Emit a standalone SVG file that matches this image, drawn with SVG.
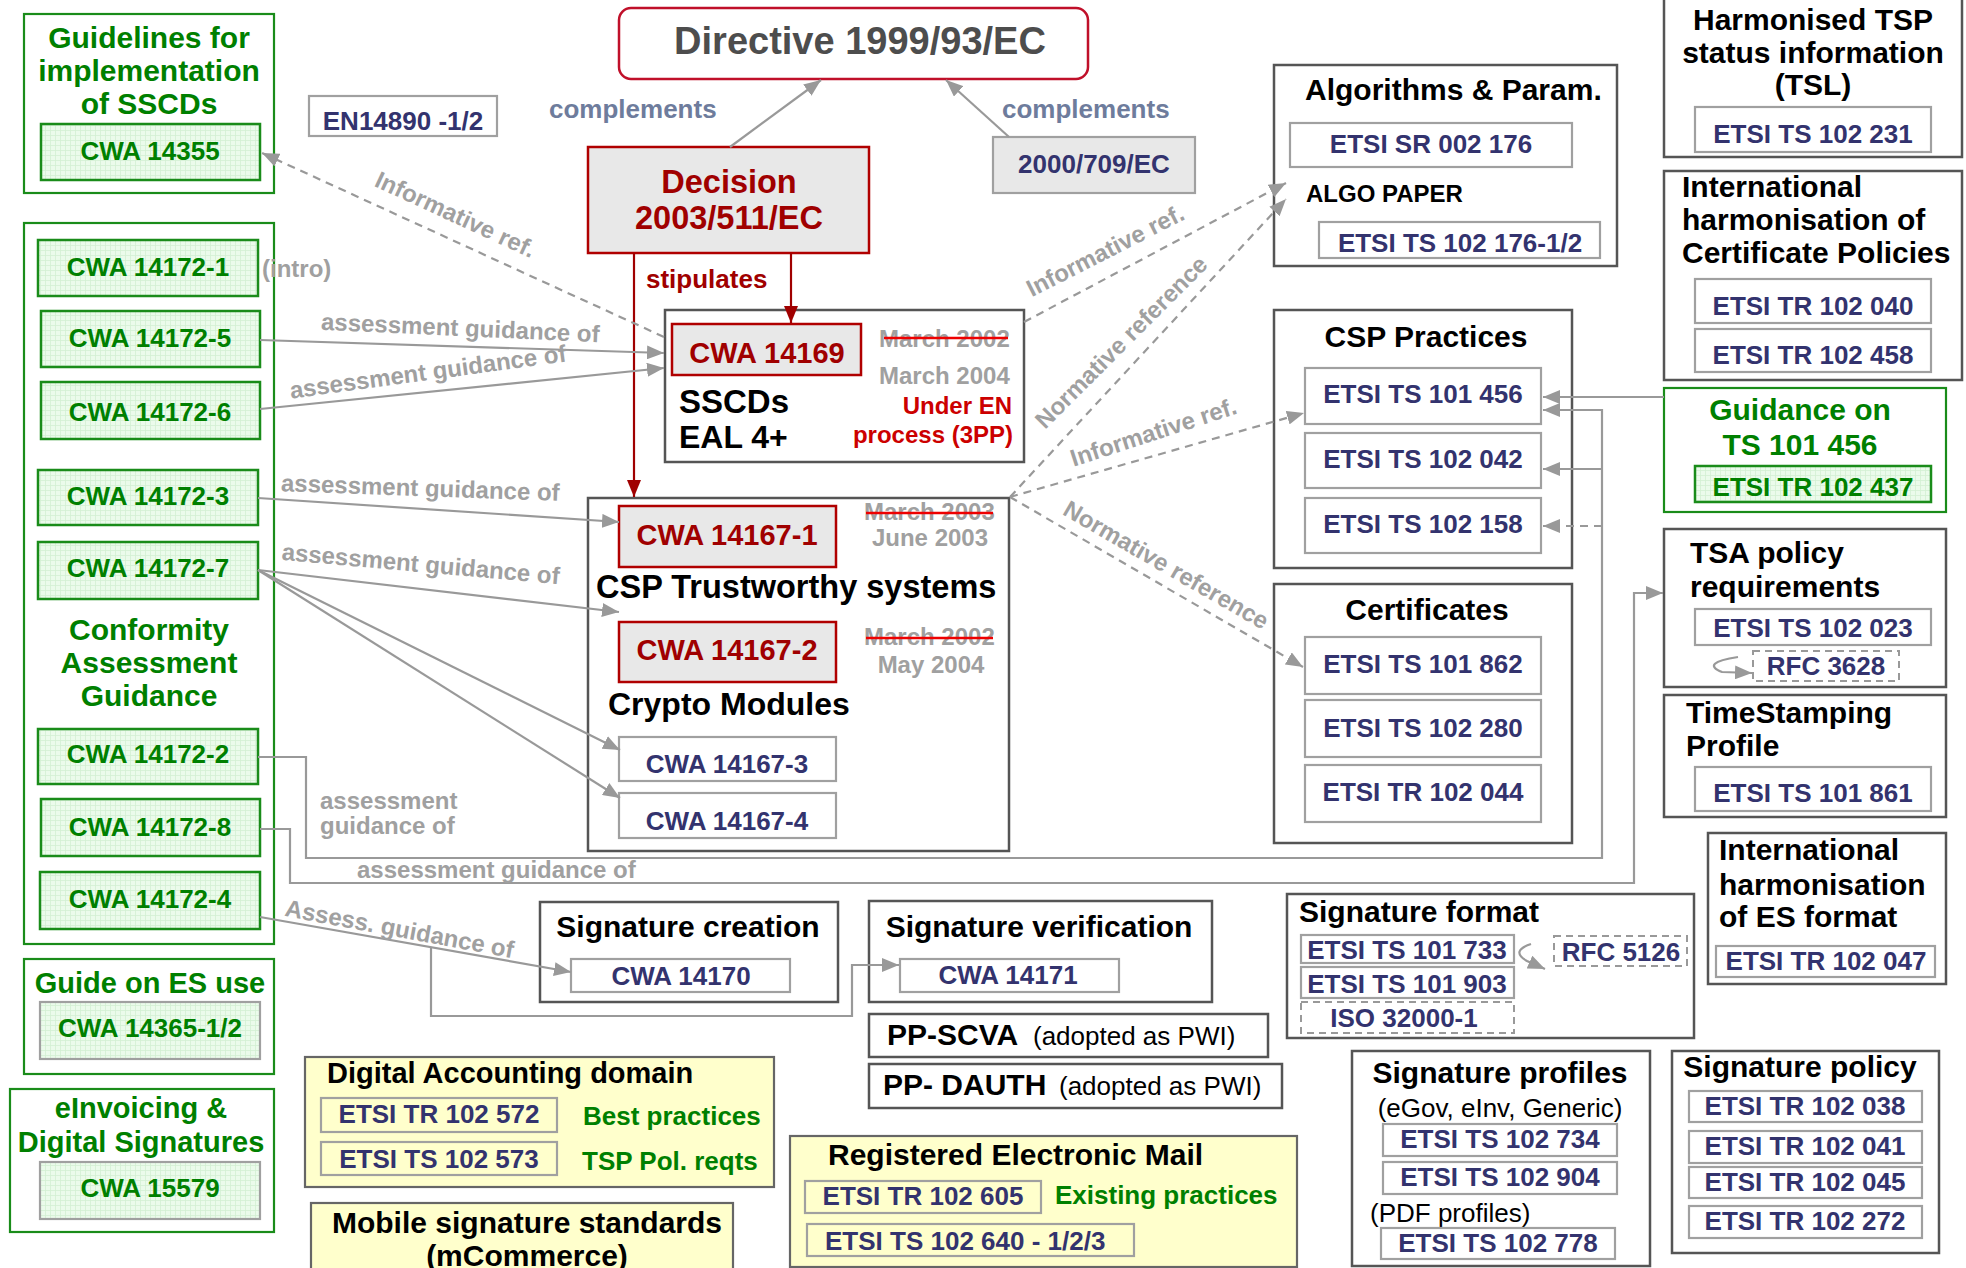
<svg xmlns="http://www.w3.org/2000/svg" width="1966" height="1268" viewBox="0 0 1966 1268">
<style>
text{font-family:"Liberation Sans",Arial,Helvetica,sans-serif;font-weight:bold}
.t{font-size:30px;fill:#000}
.m{text-anchor:middle}
.e{text-anchor:end}
.c{font-size:26px;fill:#33336e;text-anchor:middle}
.g{fill:#008000}
.gc{font-size:26px;fill:#008000;text-anchor:middle}
.rd{font-size:29px;fill:#a00000;text-anchor:middle}
.box{fill:#fff;stroke:#555;stroke-width:2.5}
.ibox{fill:#fff;stroke:#a0a0a0;stroke-width:2.2}
.dbox{fill:#fff;stroke:#999;stroke-width:2;stroke-dasharray:7 5}
.gbox{fill:#fff;stroke:#1a8c1a;stroke-width:2.2}
.gin{fill:url(#grid);stroke:#1a8c1a;stroke-width:2.5}
.gin2{fill:url(#grid);stroke:#a0a0a0;stroke-width:2.2}
.ybox{fill:#ffffcc;stroke:#666;stroke-width:2.2}
.yin{fill:none;stroke:#a0a0a0;stroke-width:2.2}
.rin{fill:#e8e8e8;stroke:#b00000;stroke-width:2.5}
.lbl{font-size:24px;fill:#a0a0a0}
.cmp{font-size:26px;fill:#6e7c9c}
.n{font-weight:normal}
.con{fill:none;stroke:#999;stroke-width:2.2}
.dash{stroke-dasharray:8 6}
.red{fill:none;stroke:#a00000;stroke-width:2.2}
.strike{stroke:#ee0000;stroke-width:2.5}
</style>
<defs>
<pattern id="grid" width="5" height="5" patternUnits="userSpaceOnUse"><rect width="5" height="5" fill="#ebfbeb"/><path d="M0,0.5H5M0.5,0V5" stroke="#d3f0d3" stroke-width="0.8"/></pattern>
<marker id="ah" markerUnits="userSpaceOnUse" markerWidth="17" markerHeight="14" refX="17" refY="7" orient="auto"><path d="M0,0 L17,7 L0,14 z" fill="#999"/></marker>
<marker id="ahr" markerUnits="userSpaceOnUse" markerWidth="17" markerHeight="14" refX="17" refY="7" orient="auto"><path d="M0,0 L17,7 L0,14 z" fill="#a00000"/></marker>
</defs>
<rect width="1966" height="1268" fill="#fff"/>

<g id="directive"><rect x="619" y="8" width="469" height="71" rx="12" fill="#fff" stroke="#c0102a" stroke-width="2.5"/><text x="860" y="54" class="m" style="font-size:38px;fill:#4d4d4d">Directive 1999/93/EC</text></g>
<g id="decision"><rect x="588" y="147" width="281" height="106" fill="#e8e8e8" stroke="#b00000" stroke-width="2.5"/><text x="729" y="193" class="m" style="font-size:32.5px;fill:#a00000">Decision</text><text x="729" y="229" class="m" style="font-size:32.5px;fill:#a00000">2003/511/EC</text></g>
<g id="ec2000"><rect x="993" y="137" width="202" height="56" fill="#e8e8e8" stroke="#a0a0a0" stroke-width="2.2"/><text x="1094" y="173" class="c">2000/709/EC</text></g>
<g id="en14890"><rect x="309" y="96" width="188" height="40" class="ibox"/><text x="403" y="130" class="c">EN14890 -1/2</text></g>

<g id="guidelines"><rect x="24" y="14" width="250" height="179" class="gbox"/>
<text x="149" y="48" class="t g m">Guidelines for</text><text x="149" y="81" class="t g m">implementation</text><text x="149" y="114" class="t g m">of SSCDs</text>
<rect x="41" y="124" width="219" height="56" class="gin"/><text x="150" y="160" class="gc">CWA 14355</text></g>

<g id="conformity"><rect x="24" y="223" width="250" height="721" class="gbox"/>
<rect x="38" y="240" width="220" height="56" class="gin"/><text x="148" y="276" class="gc">CWA 14172-1</text>
<rect x="41" y="311" width="219" height="56" class="gin"/><text x="150" y="347" class="gc">CWA 14172-5</text>
<rect x="41" y="382" width="219" height="57" class="gin"/><text x="150" y="421" class="gc">CWA 14172-6</text>
<rect x="38" y="470" width="220" height="55" class="gin"/><text x="148" y="505" class="gc">CWA 14172-3</text>
<rect x="38" y="542" width="220" height="57" class="gin"/><text x="148" y="577" class="gc">CWA 14172-7</text>
<text x="149" y="640" class="t g m">Conformity</text><text x="149" y="673" class="t g m">Assessment</text><text x="149" y="706" class="t g m">Guidance</text>
<rect x="38" y="729" width="220" height="55" class="gin"/><text x="148" y="763" class="gc">CWA 14172-2</text>
<rect x="41" y="799" width="219" height="57" class="gin"/><text x="150" y="836" class="gc">CWA 14172-8</text>
<rect x="40" y="872" width="220" height="57" class="gin"/><text x="150" y="908" class="gc">CWA 14172-4</text></g>
<text x="262" y="277" class="lbl">(intro)</text>

<g id="guide-es"><rect x="24" y="959" width="250" height="115" class="gbox"/><text x="150" y="993" class="g m" style="font-size:29px">Guide on ES use</text>
<rect x="40" y="1002" width="220" height="57" class="gin2"/><text x="150" y="1037" class="gc">CWA 14365-1/2</text></g>
<g id="einvoicing"><rect x="10" y="1089" width="264" height="143" class="gbox"/><text x="141" y="1118" class="g m" style="font-size:29px">eInvoicing &amp;</text><text x="141" y="1152" class="g m" style="font-size:29px">Digital Signatures</text>
<rect x="40" y="1162" width="220" height="57" class="gin2"/><text x="150" y="1197" class="gc">CWA 15579</text></g>

<g id="sscd"><rect x="665" y="310" width="359" height="152" class="box"/>
<rect x="672" y="324" width="189" height="51" class="rin"/><text x="767" y="363" class="rd">CWA 14169</text>
<text x="879" y="347" class="lbl">March 2002</text><line x1="884" y1="338" x2="1008" y2="338" class="strike"/>
<text x="879" y="384" class="lbl">March 2004</text>
<text x="1012" y="414" class="e" style="font-size:24px;fill:#cc0000">Under EN</text>
<text x="1013" y="443" class="e" style="font-size:24px;fill:#cc0000">process (3PP)</text>
<text x="679" y="413" style="font-size:33px;fill:#000">SSCDs</text><text x="679" y="448" style="font-size:32px;fill:#000">EAL 4+</text></g>

<g id="csp-tw"><rect x="588" y="498" width="421" height="353" class="box"/>
<rect x="619" y="506" width="217" height="61" class="rin"/><text x="727" y="545" class="rd">CWA 14167-1</text>
<text x="864" y="520" class="lbl">March 2003</text><line x1="866" y1="513" x2="993" y2="513" class="strike"/>
<text x="930" y="546" class="lbl m">June 2003</text>
<text x="596" y="598" style="font-size:32.5px;fill:#000">CSP Trustworthy systems</text>
<rect x="619" y="622" width="217" height="60" class="rin"/><text x="727" y="660" class="rd">CWA 14167-2</text>
<text x="864" y="645" class="lbl">March 2002</text><line x1="866" y1="638" x2="993" y2="638" class="strike"/>
<text x="931" y="673" class="lbl m">May 2004</text>
<text x="608" y="715" style="font-size:32px;fill:#000">Crypto Modules</text>
<rect x="619" y="737" width="217" height="44" class="ibox"/><text x="727" y="773" class="c">CWA 14167-3</text>
<rect x="619" y="793" width="217" height="45" class="ibox"/><text x="727" y="830" class="c">CWA 14167-4</text></g>

<g id="algo"><rect x="1274" y="65" width="343" height="201" class="box"/><text x="1305" y="100" class="t">Algorithms &amp; Param.</text>
<rect x="1290" y="123" width="282" height="44" class="ibox"/><text x="1431" y="153" class="c">ETSI SR 002 176</text>
<text x="1306" y="202" style="font-size:24px;fill:#000">ALGO PAPER</text>
<rect x="1319" y="222" width="281" height="36" class="ibox"/><text x="1460" y="252" class="c">ETSI TS 102 176-1/2</text></g>

<g id="tsl"><rect x="1664" y="-2" width="298" height="159" class="box"/>
<text x="1813" y="30" class="t m">Harmonised TSP</text><text x="1813" y="63" class="t m">status information</text><text x="1813" y="95" class="t m">(TSL)</text>
<rect x="1695" y="107" width="236" height="45" class="ibox"/><text x="1813" y="143" class="c">ETSI TS 102 231</text></g>

<g id="intl-cp"><rect x="1664" y="171" width="298" height="209" class="box"/>
<text x="1682" y="197" class="t">International</text><text x="1682" y="230" class="t">harmonisation of</text><text x="1682" y="263" class="t">Certificate Policies</text>
<rect x="1695" y="279" width="236" height="44" class="ibox"/><text x="1813" y="315" class="c">ETSI TR 102 040</text>
<rect x="1695" y="329" width="236" height="43" class="ibox"/><text x="1813" y="364" class="c">ETSI TR 102 458</text></g>

<g id="csp-practices"><rect x="1274" y="310" width="298" height="258" class="box"/><text x="1426" y="347" class="t m">CSP Practices</text>
<rect x="1305" y="368" width="236" height="56" class="ibox"/><text x="1423" y="403" class="c">ETSI TS 101 456</text>
<rect x="1305" y="433" width="236" height="55" class="ibox"/><text x="1423" y="468" class="c">ETSI TS 102 042</text>
<rect x="1305" y="498" width="236" height="55" class="ibox"/><text x="1423" y="533" class="c">ETSI TS 102 158</text></g>

<g id="guidance456"><rect x="1664" y="388" width="282" height="124" class="gbox"/>
<text x="1800" y="420" class="t g m">Guidance on</text><text x="1800" y="455" class="t g m">TS 101 456</text>
<rect x="1695" y="466" width="236" height="36" class="gin"/><text x="1813" y="496" class="gc">ETSI TR 102 437</text></g>

<g id="certificates"><rect x="1274" y="584" width="298" height="259" class="box"/><text x="1427" y="620" class="t m">Certificates</text>
<rect x="1305" y="637" width="236" height="57" class="ibox"/><text x="1423" y="673" class="c">ETSI TS 101 862</text>
<rect x="1305" y="700" width="236" height="57" class="ibox"/><text x="1423" y="737" class="c">ETSI TS 102 280</text>
<rect x="1305" y="765" width="236" height="57" class="ibox"/><text x="1423" y="801" class="c">ETSI TR 102 044</text></g>

<g id="tsa"><rect x="1664" y="529" width="282" height="158" class="box"/>
<text x="1690" y="563" class="t">TSA policy</text><text x="1690" y="597" class="t">requirements</text>
<rect x="1695" y="609" width="236" height="36" class="ibox"/><text x="1813" y="637" class="c">ETSI TS 102 023</text>
<rect x="1753" y="651" width="146" height="30" class="dbox"/><text x="1826" y="675" class="c">RFC 3628</text></g>

<g id="timestamping"><rect x="1664" y="695" width="282" height="122" class="box"/>
<text x="1686" y="723" class="t">TimeStamping</text><text x="1686" y="756" class="t">Profile</text>
<rect x="1695" y="767" width="236" height="44" class="ibox"/><text x="1813" y="802" class="c">ETSI TS 101 861</text></g>

<g id="intl-es"><rect x="1708" y="833" width="238" height="151" class="box"/>
<text x="1719" y="860" class="t">International</text><text x="1719" y="895" class="t">harmonisation</text><text x="1719" y="927" class="t">of ES format</text>
<rect x="1716" y="946" width="219" height="31" class="ibox"/><text x="1826" y="970" class="c">ETSI TR 102 047</text></g>

<g id="sig-creation"><rect x="540" y="902" width="298" height="100" class="box"/><text x="688" y="937" class="t m">Signature creation</text>
<rect x="571" y="959" width="219" height="33" class="ibox"/><text x="681" y="985" class="c">CWA 14170</text></g>
<g id="sig-verification"><rect x="869" y="901" width="343" height="101" class="box"/><text x="1039" y="937" class="t m">Signature verification</text>
<rect x="900" y="959" width="219" height="33" class="ibox"/><text x="1008" y="984" class="c">CWA 14171</text></g>
<g id="pp-scva"><rect x="869" y="1014" width="399" height="43" class="box"/><text x="887" y="1045" style="font-size:30px;fill:#000">PP-SCVA</text><text x="1033" y="1045" class="n" style="font-size:26px;fill:#000">(adopted as PWI)</text></g>
<g id="pp-dauth"><rect x="869" y="1064" width="413" height="44" class="box"/><text x="883" y="1095" style="font-size:30px;fill:#000">PP- DAUTH</text><text x="1059" y="1095" class="n" style="font-size:26px;fill:#000">(adopted as PWI)</text></g>

<g id="sig-format"><rect x="1287" y="894" width="407" height="144" class="box"/><text x="1299" y="922" class="t">Signature format</text>
<rect x="1301" y="935" width="213" height="28" class="ibox"/><text x="1407" y="959" class="c">ETSI TS 101 733</text>
<rect x="1301" y="967" width="213" height="31" class="ibox"/><text x="1407" y="993" class="c">ETSI TS 101 903</text>
<rect x="1301" y="1002" width="213" height="31" class="dbox"/><text x="1404" y="1027" class="c">ISO 32000-1</text>
<rect x="1554" y="936" width="133" height="30" class="dbox"/><text x="1621" y="961" class="c">RFC 5126</text></g>

<g id="sig-profiles"><rect x="1352" y="1051" width="298" height="215" class="box"/><text x="1500" y="1083" class="t m">Signature profiles</text>
<text x="1500" y="1117" class="m n" style="font-size:26px;fill:#000">(eGov, eInv, Generic)</text>
<rect x="1383" y="1124" width="234" height="32" class="ibox"/><text x="1500" y="1148" class="c">ETSI TS 102 734</text>
<rect x="1383" y="1162" width="234" height="32" class="ibox"/><text x="1500" y="1186" class="c">ETSI TS 102 904</text>
<text x="1370" y="1222" class="n" style="font-size:26px;fill:#000">(PDF profiles)</text>
<rect x="1381" y="1228" width="234" height="31" class="ibox"/><text x="1498" y="1252" class="c">ETSI TS 102 778</text></g>

<g id="sig-policy"><rect x="1672" y="1051" width="267" height="202" class="box"/><text x="1800" y="1077" class="t m">Signature policy</text>
<rect x="1689" y="1091" width="233" height="31" class="ibox"/><text x="1805" y="1115" class="c">ETSI TR 102 038</text>
<rect x="1689" y="1131" width="233" height="32" class="ibox"/><text x="1805" y="1155" class="c">ETSI TR 102 041</text>
<rect x="1689" y="1167" width="233" height="31" class="ibox"/><text x="1805" y="1191" class="c">ETSI TR 102 045</text>
<rect x="1689" y="1206" width="233" height="32" class="ibox"/><text x="1805" y="1230" class="c">ETSI TR 102 272</text></g>

<g id="digital-accounting"><rect x="305" y="1057" width="469" height="130" class="ybox"/><text x="327" y="1083" style="font-size:29px;fill:#000">Digital Accounting domain</text>
<rect x="321" y="1098" width="236" height="34" class="yin"/><text x="439" y="1123" class="c">ETSI TR 102 572</text>
<text x="583" y="1125" class="g" style="font-size:26px">Best practices</text>
<rect x="321" y="1142" width="236" height="33" class="yin"/><text x="439" y="1168" class="c">ETSI TS 102 573</text>
<text x="582" y="1170" class="g" style="font-size:26px">TSP Pol. reqts</text></g>

<g id="mobile"><rect x="311" y="1203" width="422" height="80" class="ybox"/><text x="527" y="1233" class="t m">Mobile signature standards</text><text x="527" y="1266" class="t m">(mCommerce)</text></g>

<g id="rem"><rect x="790" y="1136" width="507" height="131" class="ybox"/><text x="828" y="1165" class="t">Registered Electronic Mail</text>
<rect x="805" y="1181" width="236" height="32" class="yin"/><text x="923" y="1205" class="c">ETSI TR 102 605</text>
<text x="1055" y="1204" class="g" style="font-size:26px">Existing practices</text>
<rect x="807" y="1224" width="327" height="32" class="yin"/><text x="825" y="1250" style="font-size:26px;fill:#33336e">ETSI TS 102 640 - 1/2/3</text></g>

<g id="connectors">
<path d="M730,147 L821,80" class="con" marker-end="url(#ah)"/>
<path d="M1009,137 L946,80" class="con" marker-end="url(#ah)"/>
<path d="M791,253 V323" class="red" marker-end="url(#ahr)"/>
<path d="M634,253 V497" class="red" marker-end="url(#ahr)"/>
<path d="M260,340 L664,353" class="con" marker-end="url(#ah)"/>
<path d="M260,409 L664,368" class="con" marker-end="url(#ah)"/>
<path d="M664,337 L262,153" class="con dash" marker-end="url(#ah)"/>
<path d="M258,498 L619,522" class="con" marker-end="url(#ah)"/>
<path d="M258,570 L619,612" class="con" marker-end="url(#ah)"/>
<path d="M258,570 L620,750" class="con" marker-end="url(#ah)"/>
<path d="M258,570 L620,798" class="con" marker-end="url(#ah)"/>
<path d="M258,757 H306 V858 H1602 V410 H1543" class="con" marker-end="url(#ah)"/>
<path d="M1602,469 H1543" class="con" marker-end="url(#ah)"/>
<path d="M1602,526 H1543" class="con dash" marker-end="url(#ah)"/>
<path d="M260,829 H290 V883 H1634 V593 H1663" class="con" marker-end="url(#ah)"/>
<path d="M1664,397 H1543" class="con" marker-end="url(#ah)"/>
<path d="M260,917 L571,972" class="con" marker-end="url(#ah)"/>
<path d="M431,947 V1016 H852 V965 H899" class="con" marker-end="url(#ah)"/>
<path d="M1024,322 L1286,183" class="con dash" marker-end="url(#ah)"/>
<path d="M1010,497 L1286,199" class="con dash" marker-end="url(#ah)"/>
<path d="M1010,497 L1304,413" class="con dash" marker-end="url(#ah)"/>
<path d="M1010,497 L1303,667" class="con dash" marker-end="url(#ah)"/>
<path d="M1738,657 Q1700,663 1722,672 L1752,673" class="con" marker-end="url(#ah)"/>
<path d="M1531,944 Q1510,951 1527,961 L1545,969" class="con" marker-end="url(#ah)"/>
<text x="549" y="118" class="cmp">complements</text>
<text x="1002" y="118" class="cmp">complements</text>
<text x="646" y="288" style="font-size:26px;fill:#a00000">stipulates</text>
<text class="lbl m" transform="translate(452,222) rotate(24.8)">Informative ref.</text>
<text class="lbl m" transform="translate(460,336) rotate(2.6)">assessment guidance of</text>
<text class="lbl m" transform="translate(429,380) rotate(-7.7)">assessment guidance of</text>
<text class="lbl m" transform="translate(420,496) rotate(2)">assessment guidance of</text>
<text class="lbl m" transform="translate(420,572) rotate(5)">assessment guidance of</text>
<text x="320" y="809" class="lbl">assessment</text>
<text x="320" y="834" class="lbl">guidance of</text>
<text x="357" y="878" class="lbl">assessment guidance of</text>
<text class="lbl m" transform="translate(398,937) rotate(10.5)">Assess. guidance of</text>
<text class="lbl m" transform="translate(1109,258) rotate(-27)">Informative ref.</text>
<text class="lbl m" transform="translate(1127,348) rotate(-45)">Normative reference</text>
<text class="lbl m" transform="translate(1156,440) rotate(-18)">Informative ref.</text>
<text class="lbl m" transform="translate(1162,572) rotate(30)">Normative reference</text>
</g>
</svg>
